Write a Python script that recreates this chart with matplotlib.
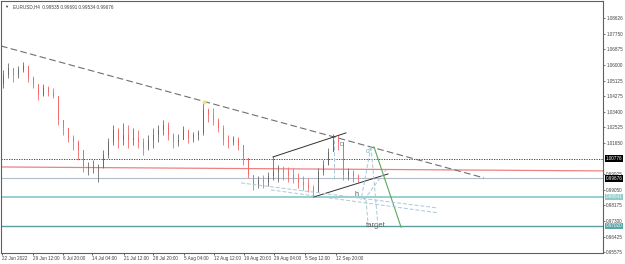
import matplotlib
matplotlib.use("Agg")
import matplotlib.pyplot as plt
from matplotlib.transforms import blended_transform_factory

plt.rcParams["font.family"] = ["Liberation Sans", "DejaVu Sans"]

# EURUSD H4, one candle here = a few H4 bars
first_open = 1.0494
highs = [1.0572, 1.0611, 1.0584, 1.0595, 1.0617, 1.0595, 1.0539, 1.0489, 1.0494, 1.0483,
         1.0472, 1.0405, 1.0293, 1.0249, 1.0210, 1.0182, 1.0098, 1.0059, 1.0070, 1.0048,
         1.0126, 1.0193, 1.0266, 1.0249, 1.0277, 1.0266, 1.0249, 1.0238, 1.0193, 1.0210,
         1.0249, 1.0266, 1.0293, 1.0282, 1.0221, 1.0215, 1.0260, 1.0238, 1.0227, 1.0238,
         1.0394, 1.0360, 1.0360, 1.0305, 1.0266, 1.0210, 1.0204, 1.0199, 1.0126, 1.0081,
         0.9970, 0.9981, 0.9987, 1.0003, 1.0093, 1.0042, 1.0037, 1.0031, 1.0026, 0.9998,
         0.9981, 0.9970, 0.9931, 1.0026, 1.0070, 1.0137, 1.0215, 1.0210, 1.0126, 1.0026,
         1.0014, 0.9992]
lows = [1.0472, 1.0528, 1.0505, 1.0528, 1.0561, 1.0505, 1.0472, 1.0405, 1.0427, 1.0427,
        1.0416, 1.0266, 1.0210, 1.0171, 1.0126, 1.0070, 1.0003, 0.9987, 0.9998, 0.9947,
        1.0026, 1.0081, 1.0154, 1.0137, 1.0154, 1.0137, 1.0154, 1.0137, 1.0098, 1.0126,
        1.0137, 1.0171, 1.0210, 1.0182, 1.0137, 1.0148, 1.0193, 1.0165, 1.0171, 1.0182,
        1.0210, 1.0282, 1.0266, 1.0227, 1.0154, 1.0137, 1.0154, 1.0126, 1.0042, 0.9970,
        0.9903, 0.9914, 0.9914, 0.9925, 0.9959, 0.9947, 0.9959, 0.9947, 0.9942, 0.9914,
        0.9903, 0.9892, 0.9864, 0.9892, 0.9987, 1.0042, 1.0126, 1.0126, 0.9959, 0.9959,
        0.9947, 0.9947]
closes = [1.0545, 1.0584, 1.0545, 1.0572, 1.0595, 1.0528, 1.0494, 1.0433, 1.0472, 1.0450,
          1.0427, 1.0293, 1.0249, 1.0193, 1.0171, 1.0126, 1.0026, 1.0026, 1.0026, 1.0026,
          1.0098, 1.0171, 1.0238, 1.0182, 1.0210, 1.0182, 1.0193, 1.0171, 1.0137, 1.0182,
          1.0210, 1.0238, 1.0266, 1.0210, 1.0171, 1.0182, 1.0238, 1.0193, 1.0210, 1.0221,
          1.0349, 1.0321, 1.0293, 1.0249, 1.0182, 1.0171, 1.0182, 1.0154, 1.0081, 0.9987,
          0.9931, 0.9959, 0.9947, 0.9981, 1.0003, 1.0014, 1.0003, 0.9987, 0.9970, 0.9947,
          0.9931, 0.9914, 0.9892, 1.0003, 1.0042, 1.0115, 1.0182, 1.0171, 0.9987, 1.0003,
          0.9981, 0.9968]

time_labels = ["22 Jun 2022", "29 Jun 12:00", "6 Jul 20:00", "14 Jul 04:00", "21 Jul 12:00",
               "28 Jul 20:00", "5 Aug 04:00", "12 Aug 12:00", "19 Aug 20:00", "29 Aug 04:00",
               "5 Sep 12:00", "12 Sep 20:00"]
time_pos = [0.2, 6.4, 12.4, 18.2, 24.6, 30.4, 36.6, 42.6, 48.6, 54.6, 60.8, 67.0]

price_ticks = [1.08626, 1.07750, 1.06875, 1.06000, 1.05125, 1.04275, 1.03400, 1.02525,
               1.01650, 0.99925, 0.99050, 0.98175, 0.97300, 0.96425, 0.95575]

bid = 0.99676
dotted_level = 1.00776
teal_level = 0.98641
teal_dark_level = 0.97020
red_line = [(0, 1.0031), (120.6, 1.0009)]
long_trend = [(0, 1.0706), (96.6, 0.9970)]
upper_wedge = [(54.4, 1.0087), (69.0, 1.0221)]
lower_wedge = [(62.6, 0.9864), (77.4, 0.9992)]
green_leg = [(74.6, 1.0143), (80.0, 0.9696)]
blue_dashes = [
    [(48.0, 0.9942), (87.4, 0.9802)],
    [(54.0, 0.9903), (87.4, 0.9775)],
    [(74.0, 1.0143), (72.0, 0.9847)],
    [(74.0, 1.0143), (75.4, 0.9702)],
    [(66.6, 1.0182), (66.6, 0.9959)],
    [(72.6, 0.9847), (77.0, 1.0014)],
    [(73.0, 0.9847), (73.4, 0.9719)],
]

fig = plt.figure(figsize=(6.25, 2.64), dpi=100)
ax = fig.add_axes([1 / 625, 11 / 264, 602 / 625, 252 / 264])
ax.set_xlim(0, 120.4)
ax.set_ylim(0.9551, 1.0957)

fs = 3.3
txt = "#404040"

# levels
ax.axhline(dotted_level, color="#303030", lw=0.6, ls=(0, (1.5, 1.5)), zorder=2)
ax.axhline(bid, color="#b4bccb", lw=0.8, zorder=2)
ax.axhline(teal_level, color="#90cccc", lw=1.3, zorder=2)
ax.axhline(teal_dark_level, color="#5a9ea0", lw=1.0, zorder=2)
ax.plot(*zip(*red_line), color="#f08080", lw=0.9, zorder=2)
ax.plot(*zip(*long_trend), color="#707070", lw=0.8, ls=(0, (6, 3)), zorder=2)

# candles
opens = [first_open] + closes[:-1]
for i, (o, h, l, c) in enumerate(zip(opens, highs, lows, closes)):
    col = "#6a6a6a" if c >= o else "#f06a6a"
    x = i + 0.5
    ax.vlines(x, l, h, color=col, lw=0.6, zorder=3)
    ax.bar(x, max(abs(c - o), 0.0003), bottom=min(o, c), width=0.35, color=col,
           lw=0, zorder=3)

ax.plot(40.6, 1.0394, "o", color="#f0e080", ms=2, zorder=4)

# pattern drawings
ax.plot(*zip(*upper_wedge), color="#303030", lw=0.7, zorder=4)
ax.plot(*zip(*lower_wedge), color="#303030", lw=0.7, zorder=4)
ax.plot(*zip(*green_leg), color="#5aa85a", lw=0.8, zorder=4)
for seg in blue_dashes:
    ax.plot(*zip(*seg), color="#a8c8d8", lw=0.7, ls=(0, (4, 2)), zorder=4)

ax.text(73.4, 1.0115, "d", color="#80b0c8", fontsize=5, ha="center", va="center")
ax.text(68.2, 1.0155, "D", color="#707070", fontsize=4, ha="center", va="center")
ax.text(71.2, 0.9878, "h", color="#505050", fontsize=5, ha="center", va="center")
ax.text(75.0, 0.9705, "target", color="#606060", fontsize=5.5, ha="center", va="center")

# axes styling
for s in ax.spines.values():
    s.set_color("#606060")
    s.set_linewidth(0.8)
ax.yaxis.tick_right()
ax.set_yticks(price_ticks)
ax.set_yticklabels([f"{v:.5f}" for v in price_ticks])
ax.set_xticks(time_pos)
ax.set_xticklabels(time_labels, ha="left")
ax.tick_params(axis="both", labelsize=fs, colors=txt, length=1.5, width=0.6, pad=0.8)
ax.tick_params(axis="y", colors="#606060", labelcolor=txt)

trans = blended_transform_factory(ax.transAxes, ax.transData)
boxes = [(dotted_level, "1.00776", "black"), (bid, "0.99676", "black"),
         (teal_level, "0.98641", "#90cccc"), (teal_dark_level, "0.97020", "#5aa8a8")]
for lvl, lab, bg in boxes:
    ax.text(1.004, lvl, lab, transform=trans, fontsize=fs, color="white", ha="left",
            va="center", bbox=dict(boxstyle="square,pad=0.15", fc=bg, ec="none"),
            zorder=6, clip_on=False)

ax.text(0.006, 0.985, "\u25bc", transform=ax.transAxes, fontsize=3, color=txt,
        va="top", ha="left")
ax.text(0.02, 0.987, "EURUSD,H4  0.99535 0.99691 0.99534 0.99676", transform=ax.transAxes,
        fontsize=fs, color=txt, va="top", ha="left")

fig.savefig("out.png", dpi=100)
plt.close(fig)
